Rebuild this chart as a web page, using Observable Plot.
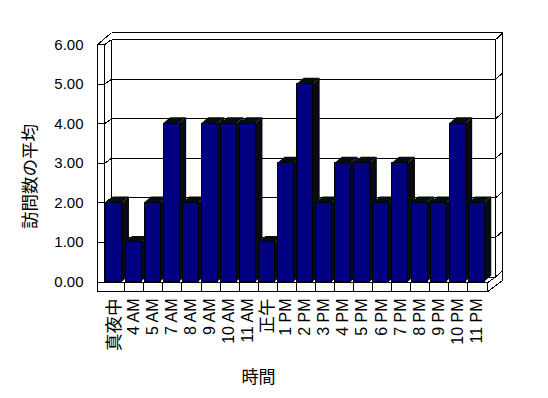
<!DOCTYPE html>
<html><head><meta charset="utf-8">
<script src="https://cdn.jsdelivr.net/npm/d3@7"></script>
<script src="https://cdn.jsdelivr.net/npm/@observablehq/plot@0.6"></script>
<style>body{margin:0;background:#fff}</style>
</head><body><div id="chart"></div>
<script>
// ---- data ----
const categories = ["真夜中","4 AM","5 AM","7 AM","8 AM","9 AM","10 AM","11 AM","正午","1 PM","2 PM","3 PM","4 PM","5 PM","6 PM","7 PM","8 PM","9 PM","10 PM","11 PM"];
const visits = [2,1,2,4,2,4,4,4,1,3,5,2,3,3,2,3,2,2,4,2];
const yTicks = [0,1,2,3,4,5,6];
const yTitle = "訪問数の平均";
const xTitle = "時間";

// ---- layout (style) ----
const W = 548, H = 398;
const mL = 97, mR = 60.7, mT = 44.2, mB = 116.5;
const xDomain = [-0.89, 19.58];
const yDomain = [0, 6];
const X = px => px * (xDomain[1] - xDomain[0]) / (W - mL - mR);
const Y = px => px * (yDomain[1] - yDomain[0]) / (H - mT - mB);
const L = xDomain[0], R = xDomain[1];
const hw = X(8), ddx = X(7), ddy = Y(6);

const rows = categories.map((c, i) => ({i, c, v: visits[i]}));

// bar faces
const sides = rows.flatMap(d => [
  {i: d.i, x: d.i + hw, y1: 0, y2: d.v},
  {i: d.i, x: d.i + hw + ddx, y1: ddy, y2: d.v + ddy}
]);
const tops = rows.flatMap(d => [
  {i: d.i, x: d.i - hw, y1: d.v, y2: d.v},
  {i: d.i, x: d.i - hw + ddx, y1: d.v, y2: d.v + ddy},
  {i: d.i, x: d.i + hw, y1: d.v, y2: d.v + ddy},
  {i: d.i, x: d.i + hw + ddx, y1: d.v + ddy, y2: d.v + ddy}
]);

// frame segments (walls + floor)
const wb = Y(5);             // back-wall vertical shift
const inL = L + X(7), bkL = L + X(14);
const inR = R + X(7.7), outR = R + X(14.7);
const topOut = 6 + Y(12), topIn = 6 + wb;
const flB = -Y(9.5), flT = -Y(0.5);
const seg = [
  [L, flB, L, 6], [inL, flT, inL, 6], [L, 6, inL, 6],
  [L, 6, bkL, topOut], [inL, 6, bkL, topIn],
  [bkL, topIn, bkL, wb],
  [bkL, topOut, outR, topOut],
  [inR, topIn, outR, topOut],
  [inR, topIn, inR, wb], [outR, topOut, outR, flB + Y(11)],
  [L, flB, R, flB], [inL, flT, R, flT], [R, flT, R, flB],
  [R, flB, outR, flB + Y(11)], [R, flT, inR, wb]
];
yTicks.forEach(v => {
  seg.push([L, v, inL, v], [inL, v, bkL, v + wb]);
  seg.push([bkL, v + wb, inR, v + wb]);
  seg.push([inR, v + wb, outR, v + wb + Y(6)]);
});
categories.slice(0, -1).forEach((c, i) => seg.push([i + X(10.3), flT, i + X(10.3), flB]));
const segs = seg.map(([x1, y1, x2, y2]) => ({x1, y1, x2, y2}));

const font = "'Liberation Sans', Arial, 'Noto Sans CJK JP', sans-serif";
const isCJK = s => /[^\x00-\x7F]/.test(s);

const plot = Plot.plot({
  width: W, height: H,
  marginLeft: mL, marginRight: mR, marginTop: mT, marginBottom: mB,
  style: {fontFamily: font, fontSize: "15px", color: "#000", background: "#fff"},
  x: {type: "linear", domain: xDomain, axis: null},
  y: {domain: yDomain, ticks: yTicks, tickFormat: d => d.toFixed(2), tickSize: 0, tickPadding: 14, label: null},
  marks: [
    Plot.link(segs, {x1: "x1", y1: "y1", x2: "x2", y2: "y2", stroke: "#000", strokeWidth: 1, shapeRendering: "crispEdges"}),
    Plot.areaY(sides, {x: "x", y1: "y1", y2: "y2", z: "i", fill: "url(#dith)"}),
    Plot.areaY(tops, {x: "x", y1: "y1", y2: "y2", z: "i", fill: "url(#dith)"}),
    Plot.rect(rows, {x1: d => d.i - hw, x2: d => d.i + hw, y1: 0, y2: "v", fill: "#000080", stroke: "#000", strokeWidth: 1, shapeRendering: "crispEdges"}),
    Plot.text(rows, {x: "i", y: () => flB, text: "c", rotate: -90, textAnchor: "end", lineAnchor: "middle", dy: 7,
      fontSize: d => isCJK(d.c) ? 17.5 : 16, fill: "#000"}),
    Plot.text([yTitle], {x: () => L + X(30 - mL), y: () => Y(H - mB - 176), text: d => d, rotate: -90, fontSize: 17.5, fill: "#000"}),
    Plot.text([xTitle], {x: () => L + X(258 - mL), y: () => -Y(377 - (H - mB)), text: d => d, fontSize: 17, fill: "#000"})
  ]
});

const svg = plot.tagName.toLowerCase() === "svg" ? plot : plot.querySelector("svg");
const ns = "http://www.w3.org/2000/svg";
const defs = document.createElementNS(ns, "defs");
defs.innerHTML = '<pattern id="dith" width="2" height="2" patternUnits="userSpaceOnUse"><rect width="2" height="2" fill="#000080"/><rect width="1" height="1" fill="#000"/><rect x="1" y="1" width="1" height="1" fill="#000"/></pattern>';
svg.insertBefore(defs, svg.firstChild);
document.getElementById("chart").appendChild(plot);
</script>
</body></html>
